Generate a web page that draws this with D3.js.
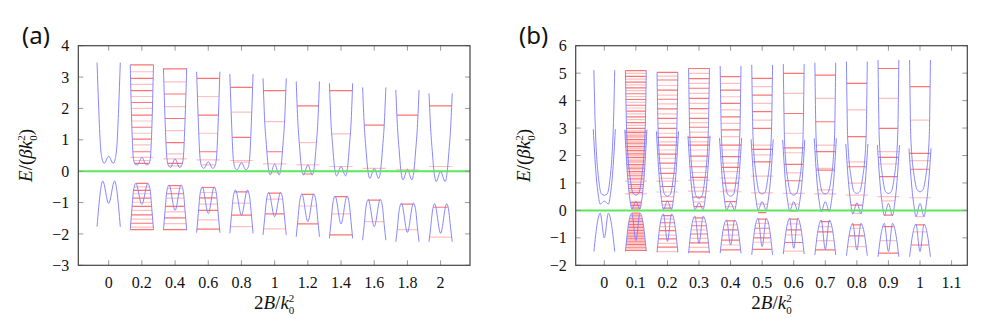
<!DOCTYPE html>
<html>
<head>
<meta charset="utf-8">
<script src="https://cdn.jsdelivr.net/npm/d3@7/dist/d3.min.js"></script>
<style>
  body { margin: 0; background: #fff; }
  .tick-label { font-family: "Liberation Serif", "DejaVu Serif", serif; font-size: 16px; fill: #111; }
  .title { font-family: "Liberation Serif", "DejaVu Serif", serif; font-size: 19px; fill: #111; }
  .panel-tag { font-family: "Noto Sans", "Open Sans", sans-serif; font-size: 24px; fill: #111; }
</style>
</head>
<body>
<div id="chart"></div>
<script>
// ---------- panel (a) ----------
const aB = [0, 0.2, 0.4, 0.6, 0.8, 1.0, 1.2, 1.4, 1.6, 1.8, 2.0];
const aXTicks = [0, 0.2, 0.4, 0.6, 0.8, 1, 1.2, 1.4, 1.6, 1.8, 2];
const aYTicks = [-3, -2, -1, 0, 1, 2, 3, 4];
// upper band, right half: k offsets and energies [mid, min, ..., top]
const aUpK = [0, 0.027, 0.040, 0.050, 0.060, 0.070];
const aUpE = [
  [0.48, 0.25, 0.40, 0.85, 2.00, 3.46],
  [0.44, 0.20, 0.22, 0.36, 1.36, 3.39],
  [0.39, 0.12, 0.18, 0.45, 1.60, 3.28],
  [0.30, 0.09, 0.16, 0.45, 1.60, 3.17],
  [0.27, 0.04, 0.12, 0.45, 1.60, 3.10],
  [0.23, -0.12, 0.20, 0.85, 1.60, 2.96],
  [0.20, -0.12, 0.18, 0.80, 1.55, 2.86],
  [0.15, -0.15, 0.15, 0.78, 1.50, 2.80],
  [0.09, -0.23, 0.10, 0.72, 1.45, 2.67],
  [0.06, -0.28, 0.05, 0.68, 1.40, 2.59],
  [-0.01, -0.33, 0.00, 0.62, 1.35, 2.48]
];
// lower band, right half: [dip, peak, ..., bottom]
const aDnK = [0, 0.036, 0.050, 0.060, 0.070];
const aDnE = [
  [-1.03, -0.31, -0.65, -1.15, -1.77],
  [-1.06, -0.39, -0.60, -1.20, -1.86],
  [-1.25, -0.44, -0.65, -1.25, -1.88],
  [-1.35, -0.50, -0.75, -1.35, -1.96],
  [-1.40, -0.60, -0.85, -1.40, -1.98],
  [-1.45, -0.68, -0.95, -1.50, -2.03],
  [-1.61, -0.73, -1.00, -1.55, -2.09],
  [-1.68, -0.79, -1.05, -1.60, -2.14],
  [-1.77, -0.90, -1.15, -1.70, -2.20],
  [-1.95, -1.02, -1.25, -1.78, -2.25],
  [-1.98, -1.04, -1.30, -1.80, -2.25]
];
const aLevUp = [
  [],
  [3.39, 3.17, 2.96, 2.77, 2.57, 2.38, 2.19, 2.00, 1.79, 1.60, 1.40, 1.21, 1.02, 0.84, 0.62, 0.34, 0.25],
  [3.26, 2.85, 2.46, 2.06, 1.68, 1.29, 0.91, 0.55, 0.25, 0.17],
  [2.96, 2.38, 1.79, 1.21, 0.62, 0.20],
  [2.67, 1.88, 1.08, 0.29],
  [2.57, 1.58, 0.62, -0.05],
  [2.08, 0.91, -0.09],
  [2.57, 1.19],
  [1.47],
  [1.79],
  [2.08]
];
const aLevDn = [
  [],
  [-0.39, -0.50, -0.61, -0.72, -0.86, -0.99, -1.12, -1.25, -1.39, -1.53, -1.66, -1.78, -1.86],
  [-0.46, -0.55, -0.72, -0.86, -1.12, -1.30, -1.49, -1.67, -1.86],
  [-0.52, -0.68, -0.85, -1.05, -1.25, -1.55, -1.85],
  [-0.66, -1.02, -1.40, -1.77],
  [-0.70, -0.89, -1.36, -1.84],
  [-0.74, -1.11, -1.68],
  [-0.81, -1.36, -2.03],
  [-0.92, -1.61],
  [-1.05, -1.86],
  [-1.15, -2.10]
];
const aLevWide = [[], [0.44], [0.39], [0.36], [0.34], [0.23], [0.20], [0.15], [0.09], [0.04], [0.15]];

// ---------- panel (b) ----------
const bB = [0, 0.1, 0.2, 0.3, 0.4, 0.5, 0.6, 0.7, 0.8, 0.9, 1.0];
const bXTicks = [0, 0.1, 0.2, 0.3, 0.4, 0.5, 0.6, 0.7, 0.8, 0.9, 1, 1.1];
const bYTicks = [-2, -1, 0, 1, 2, 3, 4, 5, 6];
// outer conduction band (U shaped): [min, ..., top]
const bC2K = [0, 0.009, 0.017, 0.029, 0.033];
const bC2E = [
  [0.55, 0.60, 1.05, 3.20, 5.11],
  [0.56, 0.62, 1.10, 2.80, 5.09],
  [0.52, 0.58, 1.05, 2.70, 5.03],
  [0.44, 0.52, 1.00, 2.70, 5.17],
  [0.52, 0.58, 1.05, 2.70, 5.26],
  [0.60, 0.66, 1.10, 2.70, 5.30],
  [0.56, 0.62, 1.00, 2.50, 5.33],
  [0.60, 0.66, 1.05, 2.60, 5.38],
  [0.62, 0.68, 1.10, 2.60, 5.42],
  [0.62, 0.68, 1.10, 2.60, 5.48],
  [0.68, 0.74, 1.15, 2.60, 5.48]
];
// inner conduction band (W shaped): [mid, min, ..., top]
const bC1K = [0, 0.013, 0.019, 0.026, 0.035];
const bC1E = [
  [0.34, 0.23, 0.55, 1.30, 2.96],
  [0.33, 0.05, 0.40, 1.20, 2.94],
  [0.34, 0.03, 0.40, 1.20, 2.88],
  [0.28, 0.03, 0.38, 1.15, 2.72],
  [0.28, 0.01, 0.35, 1.10, 2.64],
  [0.32, 0.01, 0.35, 1.05, 2.59],
  [0.32, -0.02, 0.32, 1.00, 2.57],
  [0.32, -0.05, 0.30, 1.00, 2.63],
  [0.28, -0.13, 0.22, 0.95, 2.42],
  [0.25, -0.19, 0.18, 0.90, 2.38],
  [0.25, -0.23, 0.15, 0.85, 2.26]
];
// valence band (M shaped): [dip, peak, ..., bottom]
const bDnK = [0, 0.013, 0.022, 0.033];
const bDnE = [
  [-1.00, -0.10, -0.45, -1.50],
  [-1.10, -0.10, -0.40, -1.49],
  [-1.13, -0.13, -0.42, -1.53],
  [-1.20, -0.21, -0.48, -1.56],
  [-1.26, -0.35, -0.60, -1.56],
  [-1.32, -0.29, -0.58, -1.62],
  [-1.38, -0.29, -0.60, -1.59],
  [-1.42, -0.35, -0.65, -1.62],
  [-1.44, -0.47, -0.75, -1.65],
  [-1.50, -0.47, -0.78, -1.69],
  [-1.50, -0.50, -0.80, -1.69]
];
const bLevUp = [
  [],
  [5.09, 4.99, 4.88, 4.78, 4.67, 4.57, 4.46, 4.36, 4.25, 4.15, 4.04, 3.94, 3.83, 3.73, 3.62, 3.52, 3.41, 3.31,
   3.20, 3.10, 2.99, 2.90, 2.84, 2.78, 2.71, 2.65, 2.58, 2.52, 2.45, 2.39, 2.32, 2.26, 2.19, 2.13, 2.06, 2.00,
   1.93, 1.87, 1.80, 1.74, 1.67, 1.61, 1.54, 1.48, 1.41, 1.35, 1.28, 1.22, 1.15, 1.01, 0.94, 0.87, 0.80, 0.73,
   0.66, 0.33, 0.28, 0.23, 0.18, 0.13, 0.08, 0.04],
  [5.03, 4.89, 4.75, 4.55, 4.38, 4.20, 4.05, 3.88, 3.70, 3.52, 3.35, 3.17, 2.99, 2.81, 2.66, 2.50, 2.38, 2.20,
   2.05, 1.90, 1.72, 1.53, 1.35, 1.17, 0.87, 0.50, 0.33, 0.20, 0.08],
  [5.17, 4.99, 4.80, 4.63, 4.45, 4.26, 4.08, 3.90, 3.71, 3.54, 3.35, 3.20, 3.03, 2.85, 2.66, 2.50, 2.38, 2.20,
   1.98, 1.80, 1.59, 1.38, 1.20, 0.84, 0.48, 0.31, 0.14],
  [4.87, 4.63, 4.38, 4.14, 3.90, 3.66, 3.41, 3.17, 2.93, 2.69, 2.38, 2.20, 1.96, 1.72, 1.57, 1.41, 0.99, 0.74,
   0.32, 0.14],
  [4.81, 4.51, 4.20, 3.90, 3.60, 3.29, 2.99, 2.38, 2.22, 2.02, 1.77, 0.23, -0.08],
  [4.99, 4.26, 3.53, 2.81, 2.28, 2.10, 1.68, 1.37, 1.08, 0.23, -0.02],
  [4.93, 4.08, 3.23, 2.38, 2.14, 1.53, 1.47, 0.75, 0.03],
  [4.63, 3.66, 2.69, 1.77, 1.59, 0.99, 0.19, -0.11],
  [5.17, 4.08, 2.99, 2.14, 1.93, 1.69, 1.23, 0.35, -0.17],
  [4.51, 3.29, 2.08, 1.81, 1.50, -0.23]
];
const bLevDn = [
  [],
  [-0.10, -0.15, -0.20, -0.25, -0.31, -0.36, -0.41, -0.46, -0.52, -0.57, -0.62, -0.67, -0.73, -0.78,
   -0.83, -0.88, -0.94, -0.99, -1.04, -1.09, -1.15, -1.20, -1.25, -1.30, -1.36, -1.41, -1.46],
  [-0.19, -0.31, -0.45, -0.59, -0.74, -0.90, -1.04, -1.20, -1.34, -1.50],
  [-0.27, -0.41, -0.56, -0.71, -0.86, -1.02, -1.18, -1.35, -1.51],
  [-0.38, -0.53, -0.71, -0.90, -1.08, -1.26, -1.44],
  [-0.32, -0.47, -0.65, -0.84, -1.00, -1.16, -1.42],
  [-0.32, -0.49, -0.71, -0.89, -1.17, -1.48],
  [-0.41, -0.59, -0.78, -1.10, -1.44],
  [-0.53, -0.65, -0.93, -1.32],
  [-0.59, -1.10, -1.56],
  [-0.53, -0.78, -1.26]
];
const bLevWide = [[], [1.07, 0.60], [1.07, 0.67], [1.10, 0.70], [1.18, 0.68], [1.25, 0.64],
  [0.62], [0.60], [0.56], [0.50], [0.46]];

// ---------- drawing ----------
const W = 996, H = 319;
const svg = d3.select("#chart").append("svg")
  .attr("width", W).attr("height", H)
  .attr("viewBox", `0 0 ${W} ${H}`);

const fmt = d3.format("");

// full curve from its right half (mirror around k = 0)
function mirror(K, E) {
  const pts = [];
  for (let i = K.length - 1; i > 0; i--) pts.push([-K[i], E[i]]);
  for (let i = 0; i < K.length; i++) pts.push([K[i], E[i]]);
  return pts;
}

// outer half width of a band at energy e (walked from the outer end inwards)
function halfWidth(K, E, e) {
  for (let i = K.length - 1; i > 0; i--) {
    const e1 = E[i], e0 = E[i - 1];
    if ((e - e0) * (e - e1) <= 0 && e0 !== e1) {
      return K[i - 1] + (K[i] - K[i - 1]) * (e - e0) / (e1 - e0);
    }
  }
  return null;
}

function panel(opt) {
  const g = svg.append("g");
  const x = d3.scaleLinear().domain(opt.xDomain).range([opt.left, opt.right]);
  const y = d3.scaleLinear().domain(opt.yDomain).range([opt.bottom, opt.top]);

  const clipId = "clip-" + opt.tag;
  svg.append("clipPath").attr("id", clipId).append("rect")
    .attr("x", opt.left).attr("y", opt.top)
    .attr("width", opt.right - opt.left).attr("height", opt.bottom - opt.top);

  const plot = g.append("g").attr("clip-path", `url(#${clipId})`);

  const line = (b) => d3.line()
    .x(d => x(b + d[0]))
    .y(d => y(d[1]))
    .curve(d3.curveMonotoneX);

  // Landau levels (red)
  const levels = [];
  opt.cols.forEach((b, i) => {
    opt.levUp[i].forEach((e, j) => {
      const w = opt.upWidth(i, e);
      if (w != null) levels.push({ b, e, w, strong: j % 2 === 0 });
    });
    opt.levDn[i].forEach((e, j) => {
      let w = halfWidth(opt.dnK, opt.dnE[i], e);
      if (w == null) w = e < opt.dnE[i][opt.dnE[i].length - 1] ? opt.dnK[opt.dnK.length - 1] : opt.dnK[1];
      levels.push({ b, e, w, strong: j % 2 === 0 });
    });
    opt.levWide[i].forEach(e => {
      levels.push({ b, e, w: opt.wideHalf, strong: false });
    });
  });

  plot.selectAll("line.level").data(levels).enter().append("line")
    .attr("class", "level")
    .attr("x1", d => x(d.b - d.w)).attr("x2", d => x(d.b + d.w))
    .attr("y1", d => y(d.e)).attr("y2", d => y(d.e))
    .attr("stroke", d => d.strong ? "#ff5a5a" : "#ffb0b0")
    .attr("stroke-opacity", d => d.strong ? 0.85 : 0.8)
    .attr("stroke-width", 1.2);

  // band curves (blue)
  opt.cols.forEach((b, i) => {
    opt.curves.forEach(c => {
      plot.append("path")
        .attr("d", line(b)(mirror(c.K, c.E[i])))
        .attr("fill", "none")
        .attr("stroke", "#7a7aff")
        .attr("stroke-width", 1)
        .attr("stroke-opacity", 0.9);
    });
  });

  // zero line
  plot.append("line")
    .attr("x1", opt.left).attr("x2", opt.right)
    .attr("y1", y(0)).attr("y2", y(0))
    .attr("stroke", "#5ee65e").attr("stroke-width", 2);

  // ticks on all four sides, pointing inwards
  const tl = 5;
  const ticks = g.append("g").attr("stroke", "#999").attr("stroke-width", 1);
  opt.xTicks.forEach(t => {
    ticks.append("line").attr("x1", x(t)).attr("x2", x(t)).attr("y1", opt.bottom).attr("y2", opt.bottom - tl);
    ticks.append("line").attr("x1", x(t)).attr("x2", x(t)).attr("y1", opt.top).attr("y2", opt.top + tl);
  });
  opt.yTicks.forEach(t => {
    ticks.append("line").attr("x1", opt.left).attr("x2", opt.left + tl).attr("y1", y(t)).attr("y2", y(t));
    ticks.append("line").attr("x1", opt.right).attr("x2", opt.right - tl).attr("y1", y(t)).attr("y2", y(t));
  });

  // frame
  g.append("rect")
    .attr("x", opt.left).attr("y", opt.top)
    .attr("width", opt.right - opt.left).attr("height", opt.bottom - opt.top)
    .attr("fill", "none").attr("stroke", "#444").attr("stroke-width", 1.2);

  // tick labels
  g.selectAll("text.xl").data(opt.xTicks).enter().append("text")
    .attr("class", "tick-label").attr("text-anchor", "middle")
    .attr("x", d => x(d)).attr("y", opt.bottom + 23)
    .text(d => fmt(d));
  g.selectAll("text.yl").data(opt.yTicks).enter().append("text")
    .attr("class", "tick-label").attr("text-anchor", "end")
    .attr("x", opt.left - 9).attr("y", d => y(d)).attr("dy", "0.35em")
    .text(d => fmt(d));

  // axis titles
  const xt = g.append("text").attr("class", "title").attr("text-anchor", "middle")
    .attr("x", (opt.left + opt.right) / 2).attr("y", opt.bottom + 44);
  xt.append("tspan").text("2");
  xt.append("tspan").attr("font-style", "italic").text("B");
  xt.append("tspan").text("/");
  xt.append("tspan").attr("font-style", "italic").text("k");
  xt.append("tspan").attr("font-size", 11).attr("dy", 5).text("0");
  xt.append("tspan").attr("font-size", 11).attr("dx", -5.5).attr("dy", -12).text("2");

  const cy = (opt.top + opt.bottom) / 2;
  const yt = g.append("text").attr("class", "title").attr("text-anchor", "middle")
    .attr("transform", `translate(${opt.left - 46},${cy}) rotate(-90)`);
  yt.append("tspan").attr("font-style", "italic").text("E");
  yt.append("tspan").text("/(");
  yt.append("tspan").attr("font-style", "italic").text("βk");
  yt.append("tspan").attr("font-size", 11).attr("dy", 5).text("0");
  yt.append("tspan").attr("font-size", 11).attr("dx", -5.5).attr("dy", -12).text("2");
  yt.append("tspan").attr("dy", 7).text(")");

  // panel tag
  g.append("text").attr("class", "panel-tag")
    .attr("x", opt.tagX).attr("y", 44).text("(" + opt.tag + ")");
}

panel({
  tag: "a", tagX: 22,
  left: 78.3, right: 470, top: 45.7, bottom: 265.3,
  xDomain: [-0.183, 2.177], yDomain: [-3, 4],
  xTicks: aXTicks, yTicks: aYTicks,
  cols: aB,
  curves: [{ K: aUpK, E: aUpE }, { K: aDnK, E: aDnE }],
  dnK: aDnK, dnE: aDnE,
  levUp: aLevUp, levDn: aLevDn, levWide: aLevWide,
  wideHalf: aUpK[aUpK.length - 1],
  upWidth: (i, e) => {
    const E = aUpE[i];
    if (e >= E[E.length - 1]) return aUpK[aUpK.length - 1];
    const w = halfWidth(aUpK, E, e);
    return w == null ? aUpK[1] : w;
  }
});

panel({
  tag: "b", tagX: 519,
  left: 575.7, right: 967.3, top: 45.7, bottom: 265.3,
  xDomain: [-0.0906, 1.1498], yDomain: [-2, 6],
  xTicks: bXTicks, yTicks: bYTicks,
  cols: bB,
  curves: [{ K: bC2K, E: bC2E }, { K: bC1K, E: bC1E }, { K: bDnK, E: bDnE }],
  dnK: bDnK, dnE: bDnE,
  levUp: bLevUp, levDn: bLevDn, levWide: bLevWide,
  wideHalf: bC1K[bC1K.length - 1],
  upWidth: (i, e) => {
    const E2 = bC2E[i], E1 = bC1E[i];
    let w2 = e >= E2[E2.length - 1] ? bC2K[bC2K.length - 1] : halfWidth(bC2K, E2, e);
    let w1 = halfWidth(bC1K, E1, e);
    const ws = [w2, w1].filter(v => v != null);
    return ws.length ? d3.max(ws) : bC1K[1];
  }
});
</script>
</body>
</html>
